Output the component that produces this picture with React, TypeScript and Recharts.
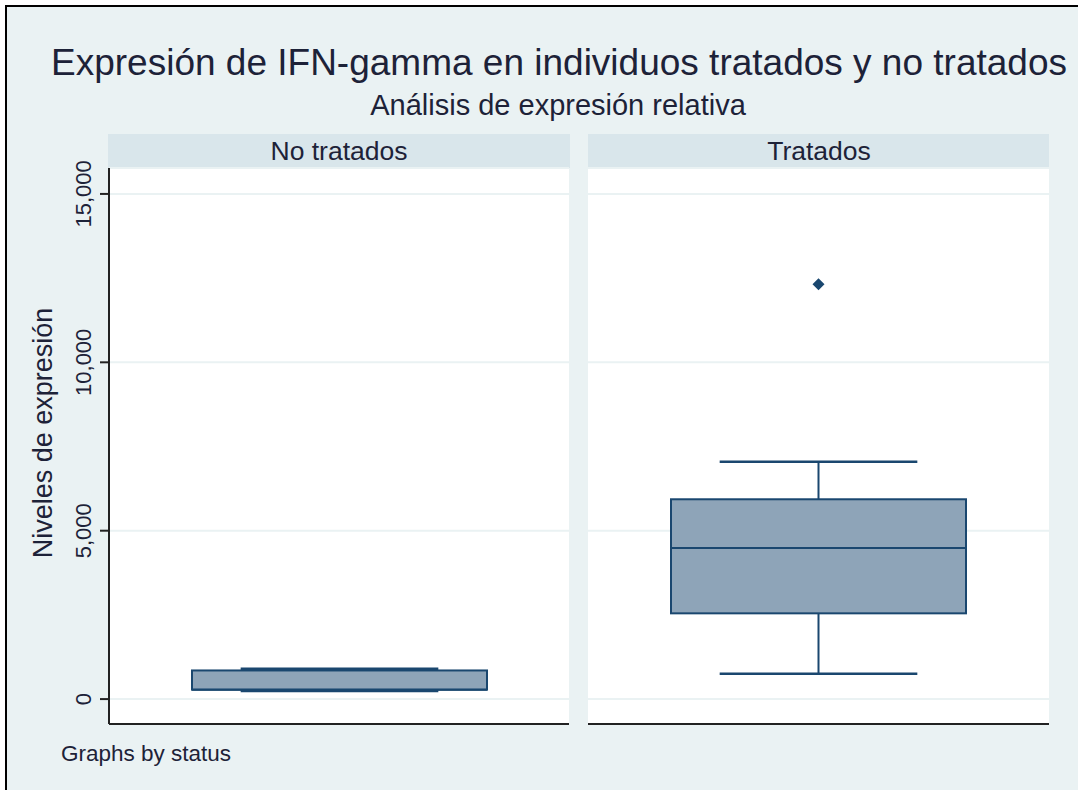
import React from "react";
import { ComposedChart, Bar, Scatter, XAxis, YAxis, CartesianGrid } from "recharts";

const groups = ["No tratados", "Tratados"];
const lowerWhisker = [240, 752];
const q1 = [280, 2546];
const median = [280, 4486];
const q3 = [850, 5933];
const upperWhisker = [900, 7050];
const outliers: (number | null)[] = [null, 12320];
const yTicks = [0, 5000, 10000, 15000];

const NAVY = "#1a476f";
const BOX_FILL = "#8ea4b8";
const BG = "#eaf2f3";
const STRIP = "#d9e6eb";
const TEXT = "#1d2238";
const FONT = "'Liberation Sans', Arial, sans-serif";

const Y_DOMAIN: [number, number] = [-740, 15770];
const TOP_PAD = 38;

const fmt = (v: number) => v.toLocaleString("en-US");

// box + whiskers drawn from the range bar geometry (lowerWhisker..upperWhisker)
const BoxShape = (props: any) => {
  const { x, y, width, height, payload } = props;
  const lo = payload.lw;
  const hi = payload.uw;
  const ppu = height / (hi - lo);
  const py = (v: number) => y + (hi - v) * ppu;
  const cx = x + width / 2;
  const capHalf = width * 0.335;
  return (
    <g>
      <line x1={cx} x2={cx} y1={py(hi)} y2={py(payload.q3)} stroke={NAVY} strokeWidth={2} />
      <line x1={cx} x2={cx} y1={py(payload.q1)} y2={py(lo)} stroke={NAVY} strokeWidth={2} />
      <rect
        x={x}
        y={py(payload.q3)}
        width={width}
        height={py(payload.q1) - py(payload.q3)}
        fill={BOX_FILL}
        stroke={NAVY}
        strokeWidth={2}
      />
      <line x1={x} x2={x + width} y1={py(payload.med)} y2={py(payload.med)} stroke={NAVY} strokeWidth={2} />
      <line x1={cx - capHalf} x2={cx + capHalf} y1={py(hi)} y2={py(hi)} stroke={NAVY} strokeWidth={2.5} />
      <line x1={cx - capHalf} x2={cx + capHalf} y1={py(lo)} y2={py(lo)} stroke={NAVY} strokeWidth={2.5} />
    </g>
  );
};

const Diamond = (props: any) => {
  const { cx, cy } = props;
  if (cx == null || cy == null) return null;
  const r = 6;
  return <path d={`M${cx},${cy - r}L${cx + r},${cy}L${cx},${cy + r}L${cx - r},${cy}Z`} fill={NAVY} />;
};

const TickLabel = (props: any) => {
  const { x, y, payload } = props;
  return (
    <text
      transform={`translate(${x},${y}) rotate(-90)`}
      textAnchor="middle"
      fontSize={22}
      fontFamily={FONT}
      fill={TEXT}
    >
      {fmt(payload.value)}
    </text>
  );
};

function Panel({ i, left, width, showAxis }: { i: number; left: number; width: number; showAxis: boolean }) {
  const data = [
    {
      name: groups[i],
      range: [lowerWhisker[i], upperWhisker[i]],
      lw: lowerWhisker[i],
      q1: q1[i],
      med: median[i],
      q3: q3[i],
      uw: upperWhisker[i],
      outlier: outliers[i],
    },
  ];
  return (
    <div style={{ position: "absolute", left, top: 168 - TOP_PAD }}>
      <ComposedChart
        width={width}
        height={557 + TOP_PAD}
        data={data}
        margin={{ top: TOP_PAD, right: showAxis ? 1 : 0, bottom: 0, left: 0 }}
      >
        <CartesianGrid vertical={false} stroke={BG} strokeWidth={2} fill="#ffffff" />
        <XAxis
          dataKey="name"
          type="category"
          tick={false}
          tickLine={false}
          height={1}
          axisLine={{ stroke: "#222", strokeWidth: 2 }}
        />
        <YAxis
          type="number"
          domain={Y_DOMAIN}
          ticks={yTicks}
          allowDataOverflow
          hide={!showAxis}
          width={109}
          tickSize={9}
          tickMargin={9}
          tick={<TickLabel />}
          tickLine={{ stroke: "#222", strokeWidth: 2 }}
          axisLine={{ stroke: "#222", strokeWidth: 2 }}
        />
        <Bar dataKey="range" barSize={295} shape={<BoxShape />} isAnimationActive={false} />
        <Scatter dataKey="outlier" shape={<Diamond />} isAnimationActive={false} />
      </ComposedChart>
    </div>
  );
}

export default function App() {
  return (
    <div style={{ position: "absolute", left: 0, top: 0, width: 1078, height: 790, background: "#fff", overflow: "hidden" }}>
      <svg width={1078} height={790} style={{ position: "absolute", left: 0, top: 0 }}>
        <rect x={5} y={5} width={1073} height={785} fill={BG} />
        <rect x={5} y={5} width={1073} height={2} fill="#000" />
        <rect x={5} y={5} width={2} height={785} fill="#000" />
        <rect x={108} y={134} width={462} height={34} fill={STRIP} />
        <rect x={588} y={134} width={461} height={34} fill={STRIP} />
        <text x={559} y={75} textAnchor="middle" fontSize={37} fontFamily={FONT} fill={TEXT}>
          Expresión de IFN-gamma en individuos tratados y no tratados
        </text>
        <text x={558} y={115} textAnchor="middle" fontSize={29} fontFamily={FONT} fill={TEXT}>
          Análisis de expresión relativa
        </text>
        <text x={339} y={160} textAnchor="middle" fontSize={26.5} fontFamily={FONT} fill={TEXT}>
          {groups[0]}
        </text>
        <text x={819} y={160} textAnchor="middle" fontSize={26.5} fontFamily={FONT} fill={TEXT}>
          {groups[1]}
        </text>
        <text
          transform="translate(52,433) rotate(-90)"
          textAnchor="middle"
          fontSize={27}
          fontFamily={FONT}
          fill={TEXT}
        >
          Niveles de expresión
        </text>
        <text x={61} y={761} fontSize={22.5} fontFamily={FONT} fill={TEXT}>
          Graphs by status
        </text>
      </svg>
      <Panel i={0} left={0} width={570} showAxis />
      <Panel i={1} left={588} width={461} showAxis={false} />
    </div>
  );
}
